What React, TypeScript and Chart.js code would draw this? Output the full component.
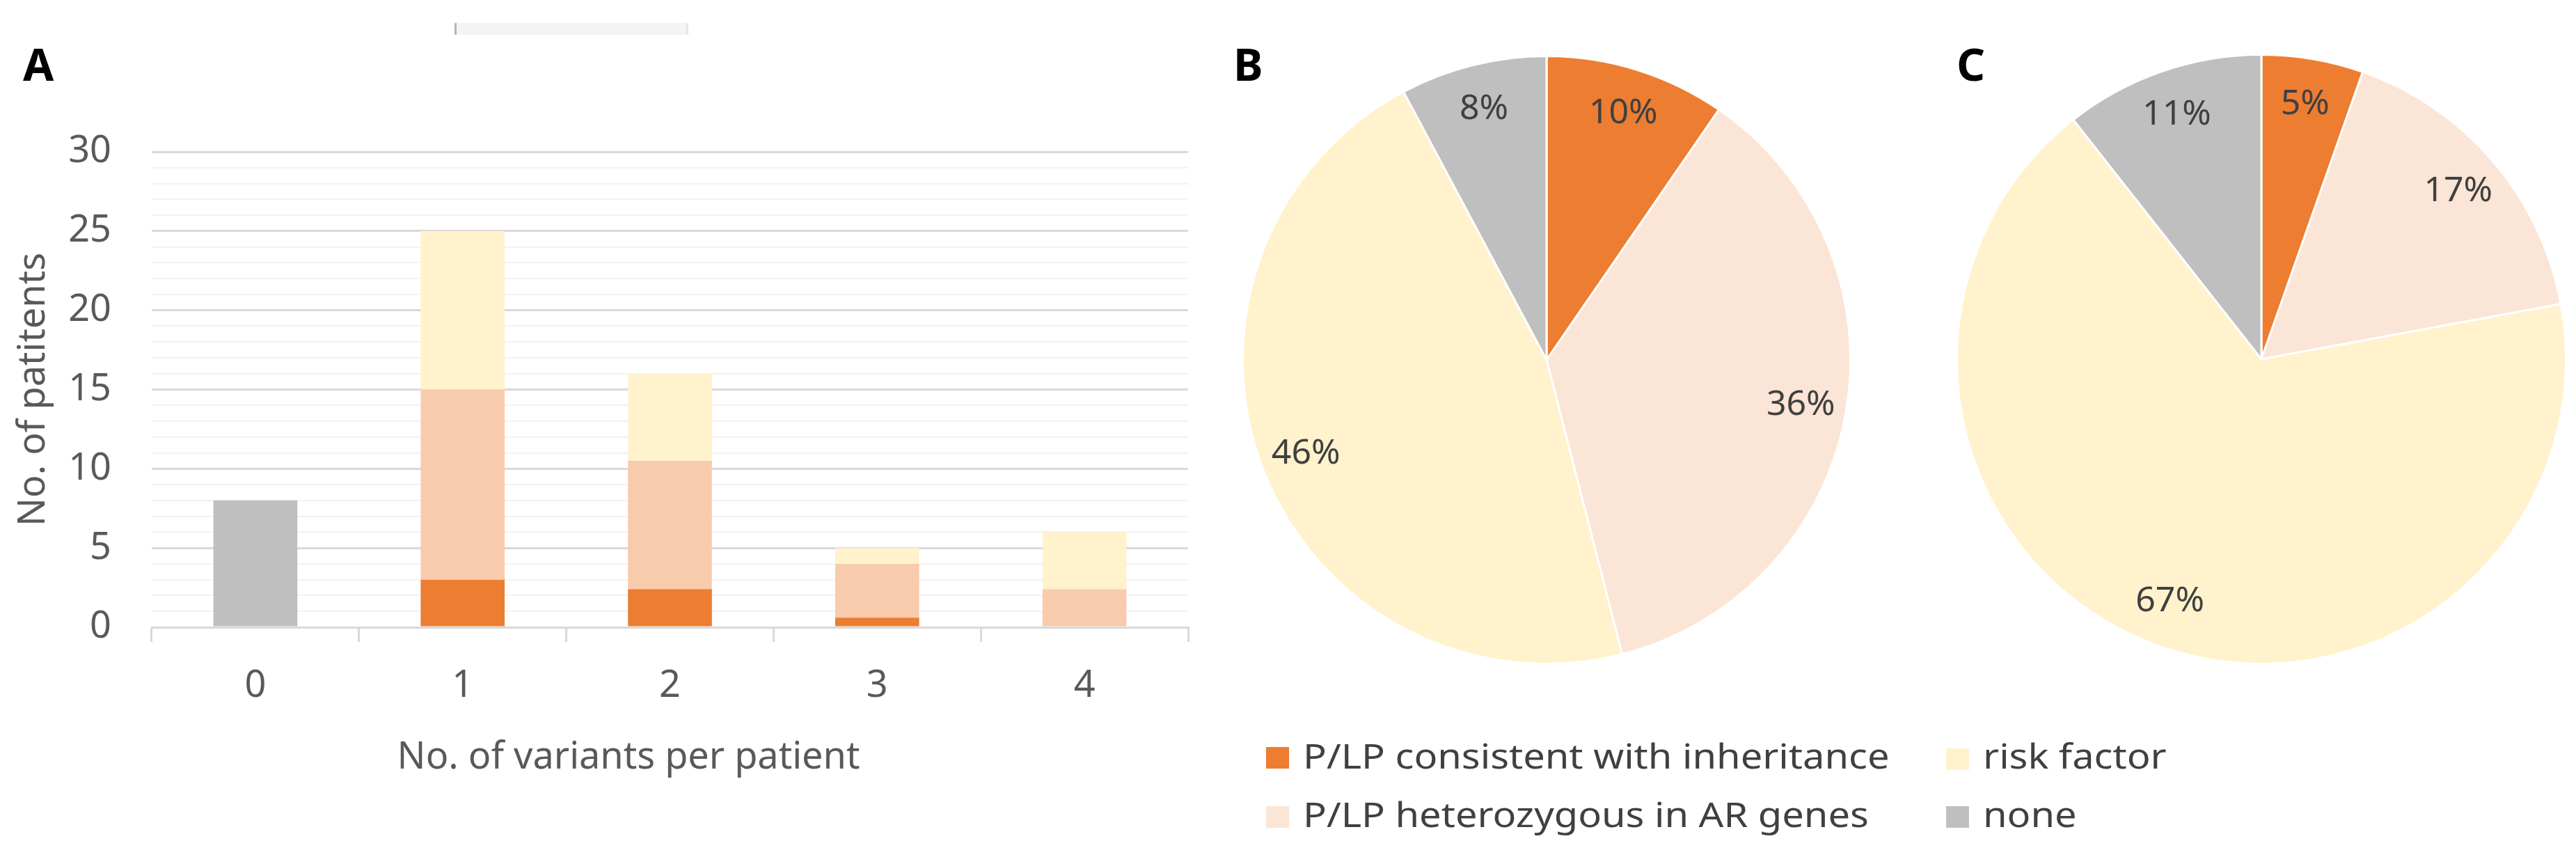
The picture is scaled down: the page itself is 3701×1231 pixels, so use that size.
import React, { useEffect, useRef } from 'react';
import { Chart, registerables } from 'chart.js';

Chart.register(...registerables);

// ---------- data ----------
const barCategories = ['0', '1', '2', '3', '4'];
const seriesNames = [
  'P/LP consistent with inheritance',
  'P/LP heterozygous in AR genes',
  'risk factor',
  'none',
];
const consistentValues = [0, 3, 2.4, 0.6, 0];
const heterozygousValues = [0, 12, 8.1, 3.4, 2.4];
const riskFactorValues = [0, 10, 5.5, 1, 3.6];
const noneValues = [8, 0, 0, 0, 0];
const yTickLabels = [0, 5, 10, 15, 20, 25, 30];
const yAxisTitle = 'No. of patitents';
const xAxisTitle = 'No. of variants per patient';

const pieBValues = [9.6, 36.4, 46.2, 7.8];
const pieCValues = [5.4, 16.7, 67.3, 10.6];

const panelLetters = ['A', 'B', 'C'];

// ---------- styles ----------
const FONT = '"Noto Sans", sans-serif';
const barColors = ['#ED7D31', '#F8CBAD', '#FFF2CC', '#BFBFBF'];
const pieColors = ['#ED7D31', '#FBE5D6', '#FFF2CC', '#BFBFBF'];
const axisText = '#595959';
const labelText = '#404040';

Chart.defaults.font.family = FONT;

const xTitlePlugin = {
  id: 'xTitleText',
  afterDraw(chart: any) {
    const { ctx } = chart;
    ctx.save();
    ctx.font = `54px ${FONT}`;
    ctx.fillStyle = axisText;
    ctx.textAlign = 'center';
    ctx.textBaseline = 'alphabetic';
    ctx.fillText(xAxisTitle, 903, 1104);
    ctx.restore();
  },
};

const pieLabelPlugin = {
  id: 'pieLabels',
  afterDatasetsDraw(chart: any) {
    const { ctx } = chart;
    const meta = chart.getDatasetMeta(0);
    const values: number[] = chart.data.datasets[0].data;
    const total = values.reduce((a, b) => a + b, 0);
    ctx.save();
    ctx.font = `50px ${FONT}`;
    ctx.fillStyle = labelText;
    ctx.textAlign = 'center';
    ctx.textBaseline = 'middle';
    meta.data.forEach((arc: any, i: number) => {
      const { x, y, startAngle, endAngle, outerRadius } = arc.getProps(
        ['x', 'y', 'startAngle', 'endAngle', 'outerRadius'],
        true
      );
      const mid = (startAngle + endAngle) / 2;
      const r = outerRadius * 0.85;
      const txt = Math.round((values[i] / total) * 100) + '%';
      ctx.fillText(txt, x + Math.cos(mid) * r, y + Math.sin(mid) * r);
    });
    ctx.restore();
  },
};

function BarPanel() {
  const ref = useRef<HTMLCanvasElement>(null);
  useEffect(() => {
    const chart = new Chart(ref.current as HTMLCanvasElement, {
      type: 'bar',
      data: {
        labels: barCategories,
        datasets: [
          { label: seriesNames[0], data: consistentValues, backgroundColor: barColors[0] },
          { label: seriesNames[1], data: heterozygousValues, backgroundColor: barColors[1] },
          { label: seriesNames[2], data: riskFactorValues, backgroundColor: barColors[2] },
          { label: seriesNames[3], data: noneValues, backgroundColor: barColors[3] },
        ],
      },
      options: {
        responsive: false,
        animation: false,
        layout: { padding: { top: 218, right: 43, left: 0, bottom: 0 } },
        datasets: {
          bar: { categoryPercentage: 1, barPercentage: 0.405, borderWidth: 0 },
        },
        plugins: { legend: { display: false }, tooltip: { enabled: false } },
        scales: {
          x: {
            stacked: true,
            offset: true,
            grid: {
              offset: true,
              drawOnChartArea: false,
              drawTicks: true,
              tickLength: 21,
              color: '#D9D9D9',
              lineWidth: 3,
            },
            border: { display: true, color: '#D9D9D9', width: 3 },
            ticks: { font: { size: 54 }, color: axisText, padding: 31 },
            afterFit: (scale: any) => {
              scale.height = 330;
            },
          },
          y: {
            stacked: true,
            min: 0,
            max: 30,
            ticks: {
              stepSize: 1,
              autoSkip: false,
              font: { size: 54 },
              color: axisText,
              padding: 58,
              callback: (v: any) => (yTickLabels.includes(Number(v)) ? String(v) : ''),
            },
            grid: {
              drawTicks: false,
              color: (c: any) => (c.tick && c.tick.value % 5 === 0 ? '#D9D9D9' : '#F2F2F2'),
              lineWidth: (c: any) => (c.tick && c.tick.value % 5 === 0 ? 3 : 2),
            },
            border: { display: false },
            title: {
              display: true,
              text: yAxisTitle,
              color: axisText,
              font: { size: 54 },
              padding: { top: 16, bottom: 0 },
            },
            afterFit: (scale: any) => {
              scale.width = 218;
            },
          },
        },
      },
      plugins: [xTitlePlugin],
    } as any);
    return () => chart.destroy();
  }, []);
  return (
    <canvas
      ref={ref}
      width={1750}
      height={1231}
      style={{ position: 'absolute', left: 0, top: 0, width: 1750, height: 1231 }}
    />
  );
}

function PiePanel(props: { values: number[]; left: number; top: number; size: number }) {
  const ref = useRef<HTMLCanvasElement>(null);
  useEffect(() => {
    const chart = new Chart(ref.current as HTMLCanvasElement, {
      type: 'pie',
      data: {
        labels: seriesNames,
        datasets: [
          {
            data: props.values,
            backgroundColor: pieColors,
            borderColor: '#FFFFFF',
            borderWidth: 3,
          },
        ],
      },
      options: {
        responsive: false,
        animation: false,
        layout: { padding: 0 },
        plugins: { legend: { display: false }, tooltip: { enabled: false } },
      },
      plugins: [pieLabelPlugin],
    } as any);
    return () => chart.destroy();
  }, []);
  return (
    <canvas
      ref={ref}
      width={props.size}
      height={props.size}
      style={{
        position: 'absolute',
        left: props.left,
        top: props.top,
        width: props.size,
        height: props.size,
      }}
    />
  );
}

const legendLayout = [
  { idx: 0, sqX: 1819, sqY: 1073, txtX: 1872, base: 1104 },
  { idx: 1, sqX: 1819, sqY: 1158, txtX: 1872, base: 1188 },
  { idx: 2, sqX: 2796, sqY: 1075, txtX: 2849, base: 1104 },
  { idx: 3, sqX: 2796, sqY: 1158, txtX: 2849, base: 1188 },
];

const letterLayout = [
  { x: 33, base: 117 },
  { x: 1772, base: 117 },
  { x: 2811, base: 117 },
];

export default function App() {
  const fs = 50;
  const txtTop = (base: number) => base - (fs - 1.362 * fs) / 2 - 1.069 * fs;
  const lfs = 64;
  const letterTop = (base: number) => base - (lfs - 1.362 * lfs) / 2 - 1.069 * lfs;
  return (
    <div
      style={{
        position: 'absolute',
        left: 0,
        top: 0,
        width: 3701,
        height: 1231,
        background: '#FFFFFF',
        overflow: 'hidden',
        fontFamily: FONT,
      }}
    >
      {/* faint strip at top (artifact in reference) */}
      <div
        style={{
          position: 'absolute',
          left: 653,
          top: 33,
          width: 332,
          height: 17,
          background: '#F4F4F4',
          borderLeft: '3px solid #B4B4B4',
        }}
      />
      <div
        style={{ position: 'absolute', left: 986, top: 33, width: 3, height: 17, background: '#E6E6E6' }}
      />
      <BarPanel />
      <PiePanel values={pieBValues} left={1784} top={79} size={876} />
      <PiePanel values={pieCValues} left={2810} top={77} size={878} />
      {panelLetters.map((l, i) => (
        <div
          key={l}
          style={{
            position: 'absolute',
            left: letterLayout[i].x,
            top: letterTop(letterLayout[i].base),
            fontSize: lfs,
            lineHeight: `${lfs}px`,
            fontWeight: 700,
            color: '#000000',
          }}
        >
          {l}
        </div>
      ))}
      {legendLayout.map((it) => (
        <React.Fragment key={it.idx}>
          <div
            style={{
              position: 'absolute',
              left: it.sqX,
              top: it.sqY,
              width: 33,
              height: 31,
              background: pieColors[it.idx],
            }}
          />
          <div
            style={{
              position: 'absolute',
              left: it.txtX,
              top: txtTop(it.base),
              fontSize: fs,
              lineHeight: `${fs}px`,
              color: labelText,
              whiteSpace: 'nowrap',
              transform: 'scaleX(1.12)',
              transformOrigin: 'left center',
            }}
          >
            {seriesNames[it.idx]}
          </div>
        </React.Fragment>
      ))}
    </div>
  );
}
